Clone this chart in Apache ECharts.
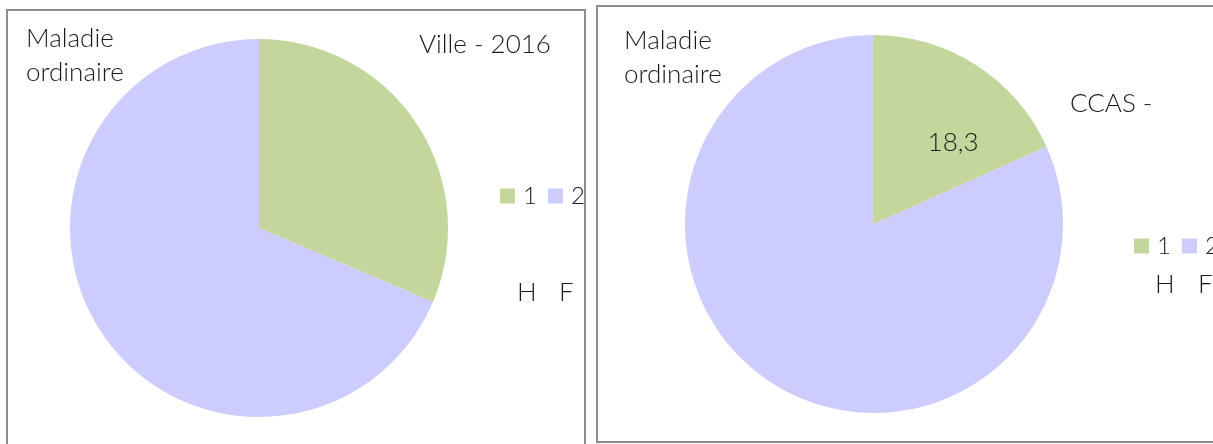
<!DOCTYPE html>
<html>
<head>
<meta charset="utf-8">
<script src="https://cdn.jsdelivr.net/npm/echarts@6/dist/echarts.min.js"></script>
<style>
  html, body { margin: 0; padding: 0; background: #fff; }
  #chart { width: 1213px; height: 444px; }
</style>
</head>
<body>
<div id="chart"></div>
<script>
// data
var categories = ["1", "2"];
var sexLabels = ["H", "F"];
var villeValues = [31.4, 68.6];
var ccasValues = [18.3, 81.7];
var villeTitle = "Ville - 2016";
var ccasTitle = "CCAS -";
var subject = "Maladie\nordinaire";

var colors = ["#C3D69B", "#CCCCFF"];
var font = "Lato";

function pieData(values) {
  return categories.map(function (c, i) {
    return { name: c, value: values[i] };
  });
}

function txt(x, y, text, size) {
  return {
    type: "text",
    left: x,
    top: y,
    style: {
      text: text,
      fill: "#1a1a1a",
      font: "300 " + size + "px " + font,
      lineHeight: 34
    }
  };
}

var legendBase = {
  data: categories,
  orient: "horizontal",
  padding: 0,
  width: 160,
  itemWidth: 15,
  itemHeight: 15,
  itemGap: 11,
  icon: "rect",
  textStyle: { fontSize: 24, color: "#1a1a1a", fontWeight: 300, padding: [0, 0, 0, 3] }
};

var chart = echarts.init(document.getElementById("chart"));

chart.setOption({
  animation: false,
  color: colors,
  textStyle: { fontFamily: font, fontWeight: 300 },
  legend: [
    Object.assign({}, legendBase, { left: 500, top: 184 }),
    Object.assign({}, legendBase, { left: 1134, top: 234 })
  ],
  graphic: [
    {
      type: "rect",
      shape: { x: 7, y: 10, width: 578, height: 460 },
      style: { fill: null, stroke: "#8c8c8c", lineWidth: 2 },
      silent: true
    },
    {
      type: "rect",
      shape: { x: 597, y: 6, width: 640, height: 436 },
      style: { fill: null, stroke: "#8c8c8c", lineWidth: 2 },
      silent: true
    },
    txt(26, 22, subject, 26),
    txt(419, 28, villeTitle, 26),
    txt(517, 276, sexLabels[0], 26),
    txt(559, 276, sexLabels[1], 26),
    txt(624, 24, subject, 26),
    txt(1070, 87, ccasTitle, 26),
    txt(1155, 268, sexLabels[0], 26),
    txt(1198, 268, sexLabels[1], 26)
  ],
  series: [
    {
      type: "pie",
      center: [259, 228],
      radius: 189,
      startAngle: 90,
      clockwise: true,
      data: pieData(villeValues),
      label: { show: false },
      labelLine: { show: false },
      emphasis: { disabled: true }
    },
    {
      type: "pie",
      center: [874, 224],
      radius: 189,
      startAngle: 90,
      clockwise: true,
      data: pieData(ccasValues).map(function (d, i) {
        return i === 0 ? d : Object.assign(d, { label: { show: false } });
      }),
      label: {
        show: true,
        position: "inside",
        offset: [26, 0],
        fontSize: 26,
        fontWeight: 300,
        color: "#1a1a1a",
        formatter: function (p) {
          return String(p.value).replace(".", ",");
        }
      },
      labelLine: { show: false },
      emphasis: { disabled: true }
    }
  ]
});
</script>
</body>
</html>
